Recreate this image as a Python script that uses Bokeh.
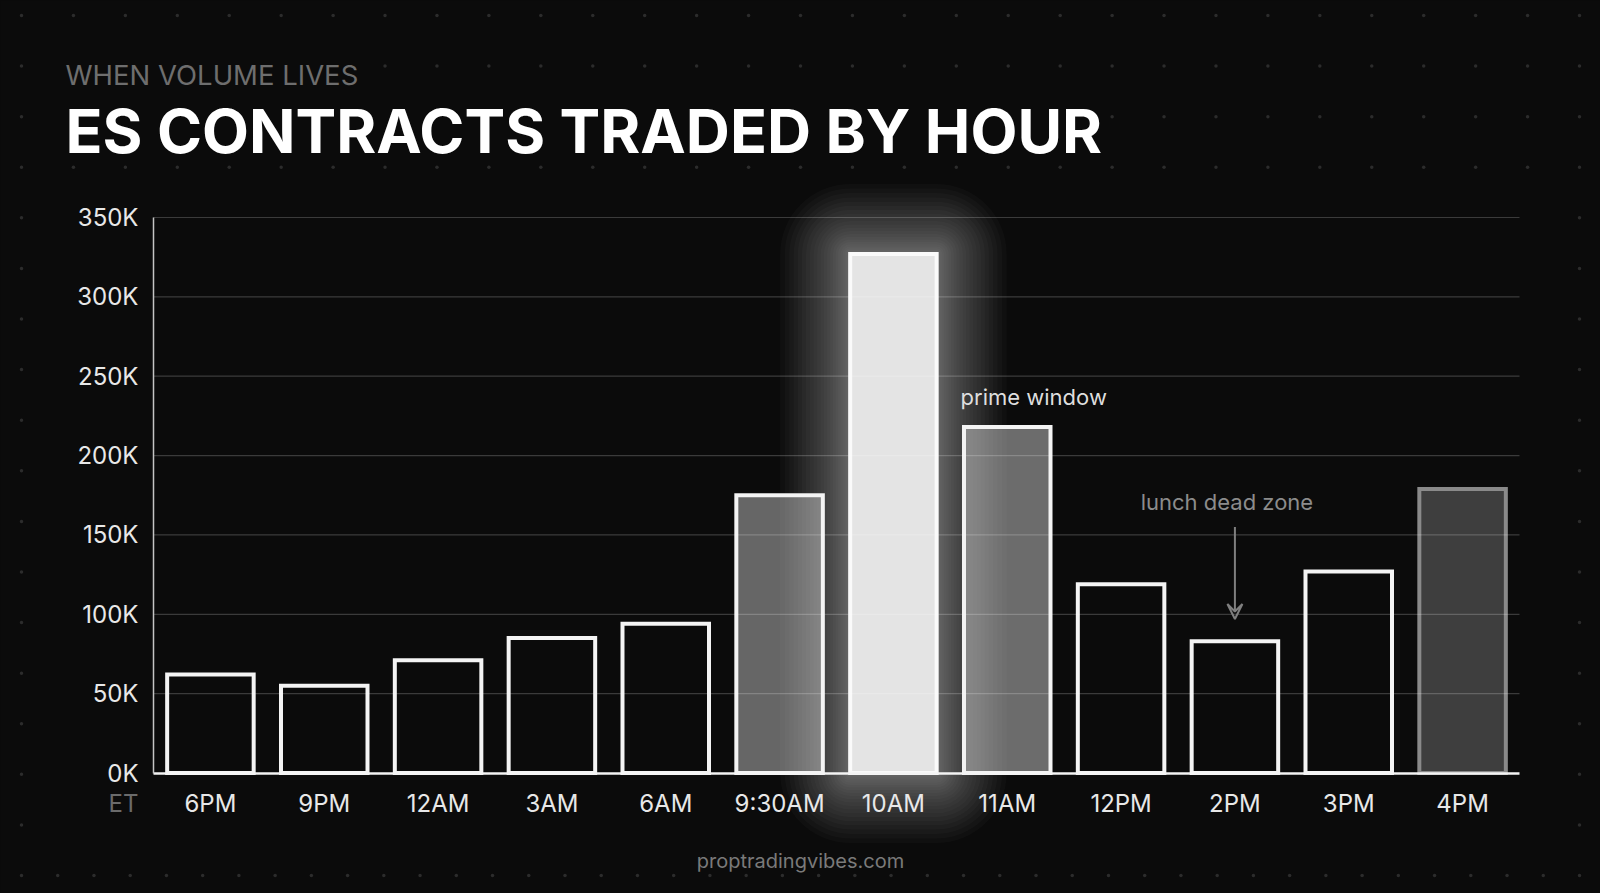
#!/usr/bin/env python3
"""ES contracts traded by hour - dark bar chart with a glowing peak bar."""

import numpy as np
from bokeh.plotting import figure
from bokeh.embed import file_html
from bokeh.resources import INLINE
from bokeh.core.properties import value
from bokeh.models import (ColumnDataSource, Range1d, LinearAxis, FixedTicker,
                          Arrow, VeeHead)

# ---- data -----------------------------------------------------------------
hours = ["6PM", "9PM", "12AM", "3AM", "6AM", "9:30AM",
         "10AM", "11AM", "12PM", "2PM", "3PM", "4PM"]
contracts = [62000, 55000, 71000, 85000, 94000, 175000,
             327000, 218000, 119000, 83000, 127000, 179000]
y_ticks = [0, 50000, 100000, 150000, 200000, 250000, 300000, 350000]
y_tick_labels = ["0K", "50K", "100K", "150K", "200K", "250K", "300K", "350K"]

subtitle = "WHEN VOLUME LIVES"
title = "ES CONTRACTS TRADED BY HOUR"
footer = "proptradingvibes.com"
tz_label = "ET"
peak_note = "prime window"
lunch_note = "lunch dead zone"

# ---- look -----------------------------------------------------------------
BG = "#0b0b0b"
FONT = "Inter"
# special bar styles, everything else is an outlined black bar
bar_style = {
    "9:30AM": ("#666666", "#f4f4f4"),
    "10AM": ("#e4e4e4", "#fafafa"),
    "11AM": ("#6c6c6c", "#f4f4f4"),
    "4PM": ("#3e3e3e", "#8a8a8a"),
}
PEAK = "10AM"

# page geometry (px inside the figure)
W, H = 1600, 893
PLOT_L, PLOT_R = 153, 1519
PLOT_T, PLOT_B = 217, 772.5
Y_MAX = y_ticks[-1]
BAR_W = 0.76

n = len(hours)
slot = (PLOT_R - PLOT_L) / n          # px per category
per_px = Y_MAX / (PLOT_B - PLOT_T)    # contracts per px

p = figure(
    width=W, height=H,
    x_range=Range1d(-PLOT_L / slot, n + (W - PLOT_R) / slot),
    y_range=Range1d(-(H - PLOT_B) * per_px, Y_MAX + PLOT_T * per_px),
    x_axis_location=None, y_axis_location=None,
    min_border=0, toolbar_location=None, output_backend="svg",
    background_fill_color=BG, border_fill_color=BG,
    outline_line_color=None,
)
p.grid.visible = False
# pixel space for the decoration and headings
p.extra_x_ranges = {"px": Range1d(0, W)}
p.extra_y_ranges = {"py": Range1d(H, 0)}

# ---- background dot grid (margins only) -------------------------------------
cols = np.linspace(21, 1579, 31)
rows = np.linspace(15, 875, 18)
masks = [(58, 368, 56, 94), (58, 1108, 100, 160)]  # subtitle, title
dot_x, dot_y = [], []
for r in rows[:4]:
    for c in cols:
        if any(x0 <= c <= x1 and y0 <= r <= y1 for x0, x1, y0, y1 in masks):
            continue
        dot_x.append(c)
        dot_y.append(r)
for r in rows[4:-1]:
    dot_x += [cols[0], cols[-1]]
    dot_y += [r, r]
for c in np.linspace(21, 1579, 44):
    dot_x.append(c)
    dot_y.append(rows[-1])
p.scatter(dot_x, dot_y, size=3.5, fill_color="#2c2c2c", line_color=None,
          x_range_name="px", y_range_name="py")

# ---- bars ---------------------------------------------------------------------
centers = np.arange(n) + 0.5
fills = [bar_style.get(h, (BG, "#f4f4f4"))[0] for h in hours]
lines = [bar_style.get(h, (BG, "#f4f4f4"))[1] for h in hours]
others = [i for i, h in enumerate(hours) if h != PEAK]
ipk = hours.index(PEAK)

src = ColumnDataSource(dict(
    x=[centers[i] for i in others], top=[contracts[i] for i in others],
    fill=[fills[i] for i in others], line=[lines[i] for i in others],
))
p.vbar(x="x", top="top", width=BAR_W, fill_color="fill", line_color="line",
       line_width=4, line_join="miter", source=src)

# glow around the peak bar: stacked translucent rounded boxes
for pad in 70 * (np.arange(1, 25) / 24) ** 1.6:
    p.quad(left=[centers[ipk] - BAR_W / 2 - pad / slot],
           right=[centers[ipk] + BAR_W / 2 + pad / slot],
           top=[contracts[ipk] + pad * per_px], bottom=[-pad * per_px],
           fill_color="white", fill_alpha=0.025, line_color=None,
           border_radius=int(round(pad)))

p.vbar(x=[centers[ipk]], top=[contracts[ipk]], width=BAR_W,
       fill_color=fills[ipk], line_color=lines[ipk], line_width=4,
       line_join="miter")

# grid lines over the bars
p.segment(x0=0, x1=n, y0=y_ticks[1:], y1=y_ticks[1:], line_color="white",
          line_alpha=0.2, line_width=1.2)

# ---- axes ---------------------------------------------------------------------
yaxis = LinearAxis(
    fixed_location=0, bounds=(0, Y_MAX),
    ticker=FixedTicker(ticks=y_ticks),
    major_label_overrides=dict(zip(y_ticks, y_tick_labels)),
)
xaxis = LinearAxis(
    fixed_location=0, bounds=(0, n),
    ticker=FixedTicker(ticks=list(centers)),
    major_label_overrides={float(c): h for c, h in zip(centers, hours)},
)
for ax in (yaxis, xaxis):
    ax.major_tick_line_color = None
    ax.minor_tick_line_color = None
    ax.major_label_text_font = FONT
    ax.major_label_text_font_size = "24px"
    ax.major_label_text_color = "#e8e8e8"
yaxis.axis_line_color = "#c4c4c4"
yaxis.axis_line_width = 1.5
yaxis.major_label_standoff = 9
xaxis.axis_line_color = "#f4f4f4"
xaxis.axis_line_width = 2.5
xaxis.major_label_standoff = 10
p.add_layout(yaxis, "left")
p.add_layout(xaxis, "below")

# ---- texts --------------------------------------------------------------------
px = dict(x_range_name="px", y_range_name="py", text_baseline="middle")
p.text(x=[65], y=[74], text=[subtitle], text_font=value(FONT),
       text_font_size="27.5px", text_color="#6e6e6e", **px)
p.text(x=[65], y=[130], text=[title], text_font=value(FONT),
       text_font_size="61px", text_font_style="bold", text_color="white",
       **px)
p.text(x=[800], y=[860], text=[footer], text_font=value(FONT),
       text_font_size="20px", text_color="#7a7a7a", text_align="center",
       **px)
p.text(x=[138], y=[803], text=[tz_label], text_font=value(FONT),
       text_font_size="24px", text_color="#6b6b6b", text_align="right",
       **px)

i11 = hours.index("11AM")
p.text(x=[centers[i11] - BAR_W / 2 - 0.03], y=[237000], text=[peak_note],
       text_font=value(FONT), text_font_size="22px", text_color="#dedede",
       text_baseline="middle")

i2 = hours.index("2PM")
p.text(x=[centers[i2] - 0.07], y=[171000], text=[lunch_note],
       text_font=value(FONT), text_font_size="22px", text_color="#8c8c8c",
       text_align="center", text_baseline="middle")
p.add_layout(Arrow(
    end=VeeHead(size=15, line_color="#7f7f7f", line_width=2, fill_color=None),
    x_start=centers[i2], y_start=155000, x_end=centers[i2], y_end=97000,
    line_color="#7f7f7f", line_width=2,
))

PAGE = """
{% block preamble %}
<style>html, body { background: #0b0b0b; }</style>
{% endblock %}
"""

open("out.html", "w").write(file_html(p, INLINE, template=PAGE))
